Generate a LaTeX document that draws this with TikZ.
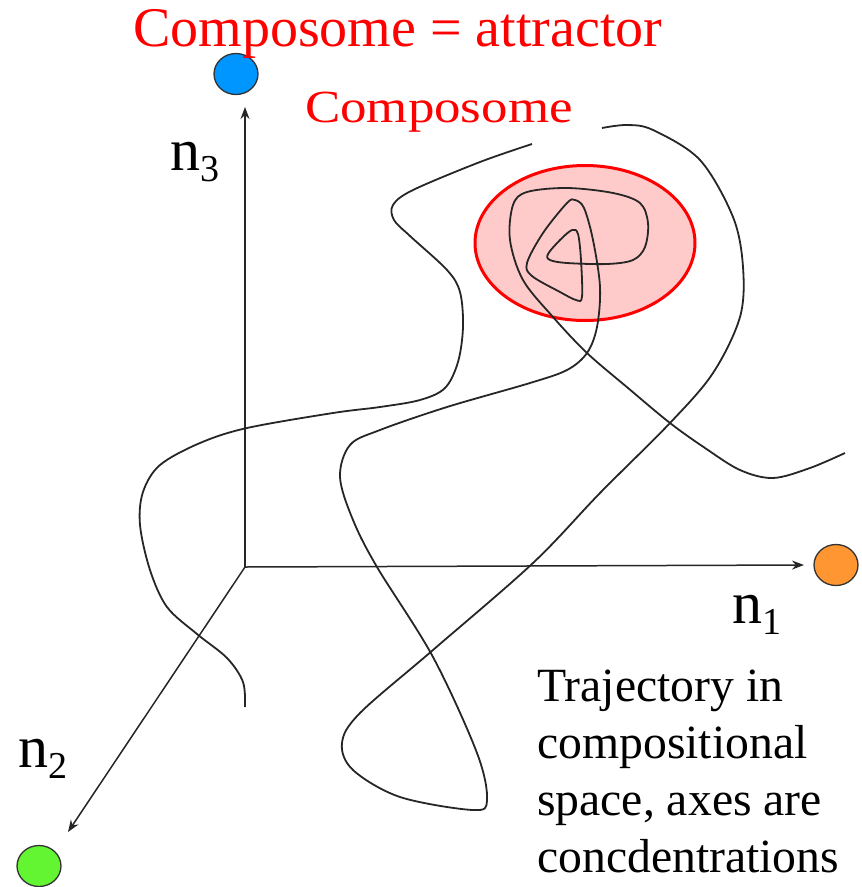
\documentclass[tikz,border=0pt]{standalone}
\usepackage{fontspec}
\setmainfont{Liberation Serif}
\usetikzlibrary{arrows.meta, shapes.geometric, positioning}

\definecolor{dotblue}{RGB}{0,150,255}
\definecolor{dotorange}{RGB}{255,150,50}
\definecolor{dotgreen}{RGB}{100,245,50}
\definecolor{blobpink}{RGB}{255,202,202}

\newcommand{\axsub}[1]{\raisebox{-11pt}{\fontsize{38}{40}\selectfont #1}}

\tikzset{
  dot/.style={ellipse,draw=black!80,line width=1.3pt,minimum width=44pt,minimum height=41pt,inner sep=0pt},
  axis/.style={line width=1.5pt,black!85,-{Stealth[length=12pt,width=9pt]}},
  traj/.style={line width=1.8pt,black!85,smooth,tension=0.55},
  axlabel/.style={anchor=base west,inner sep=0pt,font=\fontsize{60}{64}\selectfont}
}

\begin{document}
\begin{tikzpicture}[x=1pt,y=-1pt]
\useasboundingbox (0,0) rectangle (862,887);

% attractor region
\node[ellipse,draw=red,fill=blobpink,line width=3pt,minimum width=220pt,minimum height=155pt] (attr) at (585,243) {};

% trajectories
\draw[traj] plot coordinates {(532,144) (480,162) (413,190) (393,205) (394,220) (410,236) (447,270) (460,292) (463,327) (458,362) (445,388) (420,400) (380,407) (333,413) (247,428) (200,443) (160,465) (143,492) (140,525) (150,570) (167,607) (197,634) (227,658) (243,682) (245,707)};
\draw[traj] plot coordinates {(845,453) (810,468) (773,478) (740,470) (705,448) (670,423) (628,388) (587,353) (553,317) (523,280) (510,240) (513,205) (527,192) (567,188) (613,193) (640,203) (648,223) (645,247) (633,260) (607,264) (567,263) (550,260) (548,254) (560,240) (572,230) (578,234) (581,260) (582,297) (576,300) (560,292) (532,276) (527,263) (543,233) (567,203) (575,200) (584,208) (593,240) (600,287) (597,327) (587,353) (567,370) (530,383) (447,407) (380,430) (350,445) (340,477) (353,520) (377,567) (433,657) (477,753) (487,800) (473,810) (400,797) (353,770) (342,743) (360,713) (433,650) (533,563) (600,493) (670,423) (713,373) (740,317) (743,267) (733,217) (700,160) (653,130) (627,125) (602,128)};

% axes
\coordinate (o) at (245,567);
\coordinate (n3tip) at (245,107);
\coordinate (n1tip) at (804,565);
\coordinate (n2tip) at (68,832);
\draw[axis] (o) -- (n3tip);
\draw[axis] (o) -- (n1tip);
\draw[axis] (o) -- (n2tip);

% species dots
\node[dot,fill=dotblue] (blue) at (236,74) {};
\node[dot,fill=dotorange] (orange) at (836,565) {};
\node[dot,fill=dotgreen] (green) at (39,866) {};

% labels
\node[axlabel] (n3) at (170,170) {n\axsub{3}};
\node[axlabel] (n1) at (732,623) {n\axsub{1}};
\node[axlabel] (n2) at (18,767) {n\axsub{2}};
\node[anchor=base west,inner sep=0pt,text=red,font=\fontsize{56}{60}\selectfont] (title) at (133,46) {Composome = attractor};
\node[anchor=base west,inner sep=0pt,text=red,font=\fontsize{46}{50}\selectfont] (compo) at (305,122) {\scalebox{1.15}[1]{Composome}};
\node[anchor=north west,inner sep=0pt,align=left,font=\fontsize{47.7}{57}\selectfont] (caption) at (537,670) {Trajectory in\\compositional\\space, axes are\\concdentrations};
\end{tikzpicture}
\end{document}
